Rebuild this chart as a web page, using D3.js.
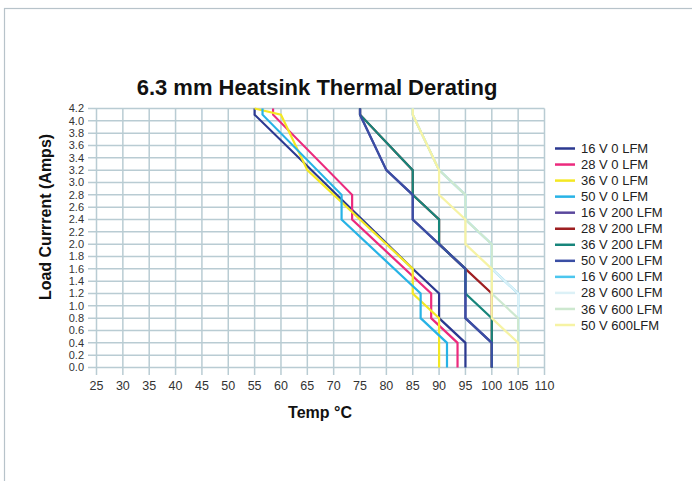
<!DOCTYPE html>
<html>
<head>
<meta charset="utf-8">
<script src="https://cdn.jsdelivr.net/npm/d3@7"></script>
<style>
  html, body { margin: 0; padding: 0; background: #fff; }
  svg { display: block; font-family: "Liberation Sans", Arial, sans-serif; }
</style>
</head>
<body>
<svg id="chart" width="692" height="481"></svg>
<script>
// Series names and colours, in legend / drawing order
const seriesNames = [
  "16 V 0 LFM", "28 V 0 LFM", "36 V 0 LFM", "50 V 0 LFM",
  "16 V 200 LFM", "28 V 200 LFM", "36 V 200 LFM", "50 V 200 LFM",
  "16 V 600 LFM", "28 V 600 LFM", "36 V 600 LFM", "50 V 600LFM"
];
const seriesColors = [
  "#2b3990", "#ec2a7d", "#f4e823", "#27b3e6",
  "#5a479c", "#9e1f22", "#17857b", "#3a4ea4",
  "#4cc6ee", "#dcf1f7", "#cde8cf", "#f6f3a4"
];

// Temperature (°C) / current (A) points of each derating curve
const temp16v0 = [55, 55, 85, 90, 90, 95, 95];
const amps16v0 = [4.2, 4.1, 1.6, 1.2, 0.8, 0.4, 0.0];
const temp28v0 = [58.5, 58.5, 73.5, 73.5, 88.5, 88.5, 93.5, 93.5];
const amps28v0 = [4.2, 4.1, 2.8, 2.4, 1.2, 0.8, 0.4, 0.0];
const temp36v0 = [55, 60, 65, 85, 85, 90, 90];
const amps36v0 = [4.2, 4.1, 3.2, 1.6, 1.2, 0.8, 0.0];
const temp50v0 = [56.5, 56.5, 71.5, 71.5, 86.5, 86.5, 91.5, 91.5];
const amps50v0 = [4.2, 4.1, 2.8, 2.4, 1.2, 0.8, 0.4, 0.0];

const temp16v200 = [75, 75, 80, 85, 85, 90, 95, 95, 100, 100];
const amps16v200 = [4.2, 4.1, 3.2, 2.8, 2.4, 2.0, 1.6, 0.8, 0.4, 0.0];
const temp28v200 = [75, 75, 85, 85, 90, 90, 95, 100, 100];
const amps28v200 = [4.2, 4.1, 3.2, 2.8, 2.4, 2.0, 1.6, 1.2, 0.0];
const temp36v200 = [75, 75, 85, 85, 90, 90, 95, 95, 100, 100];
const amps36v200 = [4.2, 4.1, 3.2, 2.8, 2.4, 2.0, 1.6, 1.2, 0.8, 0.0];
const temp50v200 = [75, 75, 80, 85, 85, 90, 95, 95, 100, 100];
const amps50v200 = [4.2, 4.1, 3.2, 2.8, 2.4, 2.0, 1.6, 0.8, 0.4, 0.0];

const temp16v600 = [85, 85, 90, 95, 95, 100, 100, 105, 105];
const amps16v600 = [4.2, 4.1, 3.2, 2.8, 2.4, 2.0, 1.6, 1.2, 0.0];
const temp28v600 = [85, 85, 90, 95, 95, 100, 100, 105, 105];
const amps28v600 = [4.2, 4.1, 3.2, 2.8, 2.4, 2.0, 1.6, 1.2, 0.0];
const temp36v600 = [85, 85, 90, 95, 95, 100, 100, 105, 105];
const amps36v600 = [4.2, 4.1, 3.2, 2.8, 2.4, 2.0, 1.2, 0.8, 0.0];
const temp50v600 = [85, 85, 90, 90, 95, 95, 100, 100, 105, 105];
const amps50v600 = [4.2, 4.1, 3.2, 2.8, 2.4, 2.0, 1.6, 0.8, 0.4, 0.0];

const seriesTemps = [temp16v0, temp28v0, temp36v0, temp50v0,
  temp16v200, temp28v200, temp36v200, temp50v200,
  temp16v600, temp28v600, temp36v600, temp50v600];
const seriesAmps = [amps16v0, amps28v0, amps36v0, amps50v0,
  amps16v200, amps28v200, amps36v200, amps50v200,
  amps16v600, amps28v600, amps36v600, amps50v600];

// Axis ticks
const xTicks = d3.range(25, 111, 5);
const yTicks = d3.range(0, 22).map(i => +(i * 0.2).toFixed(1));

const svg = d3.select("#chart");
const gridColor = "#b9ccd3";

// outer frame
svg.append("rect")
  .attr("x", 4.5).attr("y", 8.5)
  .attr("width", 720).attr("height", 520)
  .attr("fill", "none").attr("stroke", "#b7c3ca").attr("stroke-width", 1.2);

const x = d3.scaleLinear().domain([25, 110]).range([96.5, 544.5]);
const y = d3.scaleLinear().domain([0, 4.2]).range([367.5, 108.5]);

// grid: horizontal lines extend left as ticks
svg.append("g").selectAll("line").data(yTicks).join("line")
  .attr("x1", 88).attr("x2", x(110))
  .attr("y1", d => y(d)).attr("y2", d => y(d))
  .attr("stroke", gridColor).attr("stroke-width", 1.5);

// grid: vertical lines extend downward as ticks
svg.append("g").selectAll("line").data(xTicks).join("line")
  .attr("x1", d => x(d)).attr("x2", d => x(d))
  .attr("y1", y(4.2)).attr("y2", 375)
  .attr("stroke", gridColor).attr("stroke-width", 1.5);

// tick labels
svg.append("g").selectAll("text").data(yTicks).join("text")
  .attr("x", 84).attr("y", d => y(d))
  .attr("dy", "0.35em")
  .attr("text-anchor", "end")
  .attr("font-size", 11).attr("fill", "#333")
  .text(d => d.toFixed(1));

svg.append("g").selectAll("text").data(xTicks).join("text")
  .attr("x", d => x(d)).attr("y", 390)
  .attr("text-anchor", "middle")
  .attr("font-size", 12.5).attr("fill", "#333")
  .text(d => d);

// curves
const line = d3.line().x(d => x(d[0])).y(d => y(d[1]));
seriesNames.forEach((name, i) => {
  const pts = seriesTemps[i].map((t, j) => [t, seriesAmps[i][j]]);
  svg.append("path")
    .datum(pts)
    .attr("d", line)
    .attr("fill", "none")
    .attr("stroke", seriesColors[i])
    .attr("stroke-width", 2.2)
    .attr("stroke-linejoin", "miter");
});

// title
svg.append("text")
  .attr("x", 317).attr("y", 95)
  .attr("text-anchor", "middle")
  .attr("font-size", 22).attr("font-weight", "bold").attr("fill", "#111")
  .text("6.3 mm Heatsink Thermal Derating");

// axis titles
svg.append("text")
  .attr("x", 320).attr("y", 418)
  .attr("text-anchor", "middle")
  .attr("font-size", 16).attr("font-weight", "bold").attr("fill", "#111")
  .text("Temp °C");

svg.append("text")
  .attr("transform", "translate(51,217) rotate(-90)")
  .attr("text-anchor", "middle")
  .attr("font-size", 16).attr("font-weight", "bold").attr("fill", "#111")
  .text("Load Currrent (Amps)");

// legend
const legend = svg.append("g");
const legendRow = d3.scaleLinear().domain([0, 11]).range([148.5, 325]);
seriesNames.forEach((name, i) => {
  const ly = legendRow(i);
  legend.append("line")
    .attr("x1", 555).attr("x2", 575)
    .attr("y1", ly).attr("y2", ly)
    .attr("stroke", seriesColors[i]).attr("stroke-width", 2.5);
  legend.append("text")
    .attr("x", 581).attr("y", ly)
    .attr("dy", "0.35em")
    .attr("font-size", 13).attr("fill", "#222")
    .text(name);
});
</script>
</body>
</html>
